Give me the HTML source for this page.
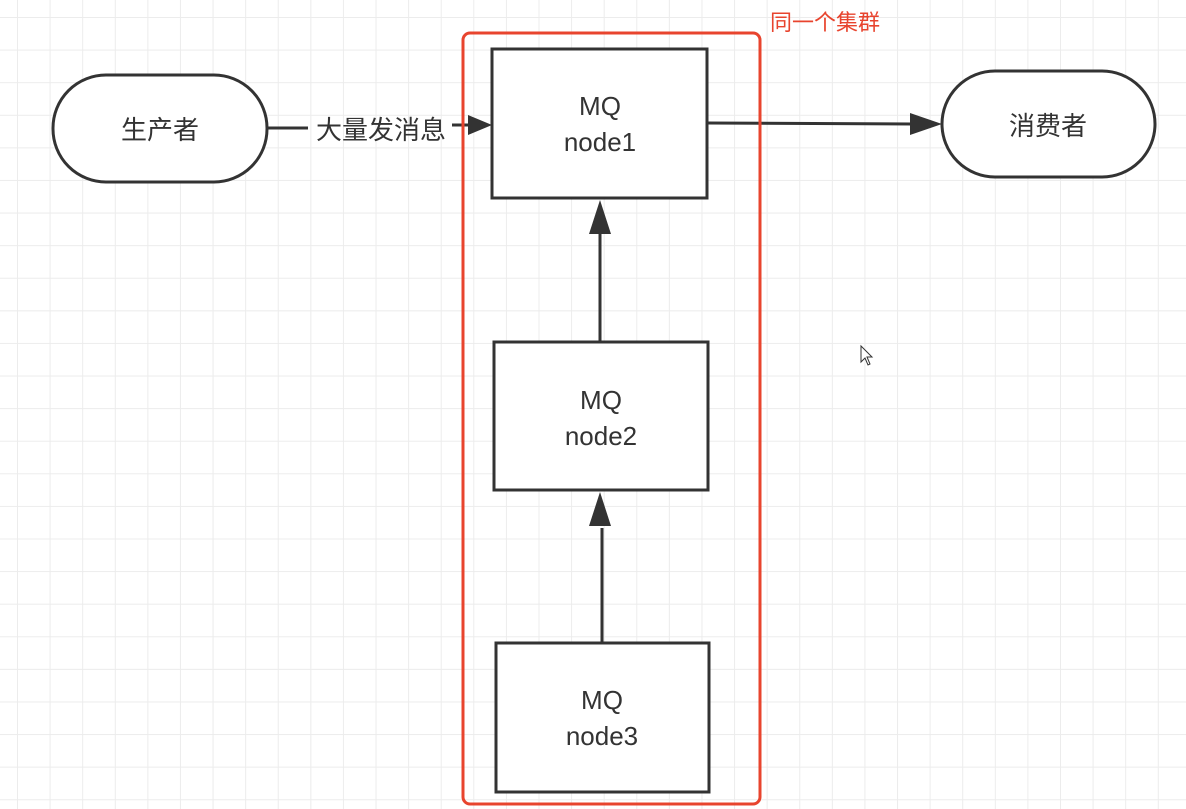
<!DOCTYPE html>
<html><head><meta charset="utf-8"><style>
body{margin:0;width:1186px;height:809px;overflow:hidden;background:#fff;
background-image:linear-gradient(to right,#ececec 1px,transparent 1px),linear-gradient(to bottom,#ececec 1px,transparent 1px);
background-size:32.6px 32.6px;background-position:17px 17px;}
</style></head><body>
<svg width="1186" height="809" style="position:absolute;left:0;top:0" font-family="Liberation Sans, Noto Sans CJK SC, sans-serif">
<g stroke="#333" stroke-width="3" fill="#fff">
<rect x="53" y="75" width="214" height="107" rx="53"/>
<rect x="942" y="71" width="213" height="106" rx="53"/>
<rect x="492" y="49" width="215" height="149"/>
<rect x="494" y="342" width="214" height="148"/>
<rect x="496" y="643" width="213" height="149"/>
</g>
<g stroke="#333" stroke-width="3">
<line x1="268" y1="128" x2="308" y2="128"/>
<line x1="452" y1="125" x2="470" y2="125"/>
<line x1="707" y1="123" x2="912" y2="124"/>
<line x1="600" y1="232" x2="600" y2="341"/>
<line x1="602" y1="528" x2="602" y2="642"/>
</g>
<g fill="#333">
<polygon points="492,125 468,115 468,135"/>
<polygon points="942,124 910,113 910,135"/>
<polygon points="600,200 589,234 611,234"/>
<polygon points="600,492 589,526 611,526"/>
</g>
<rect x="463" y="33" width="297" height="771" rx="7" fill="none" stroke="#e8442e" stroke-width="3"/>
<g fill="#333" font-size="26" text-anchor="middle">
<text x="160" y="139">生产者</text>
<text x="1048" y="135">消费者</text>
<text x="381" y="139">大量发消息</text>
<text x="600" y="115">MQ</text><text x="600" y="151">node1</text>
<text x="601" y="409">MQ</text><text x="601" y="445">node2</text>
<text x="602" y="709">MQ</text><text x="602" y="745">node3</text>
</g>
<text x="770" y="30" fill="#e8442e" font-size="22">同一个集群</text>
<path d="M861,346 L861,362 L865,358 L868,365 L870,364 L867,357 L872,357 Z" fill="#fff" stroke="#333" stroke-width="1"/>
</svg>
</body></html>
